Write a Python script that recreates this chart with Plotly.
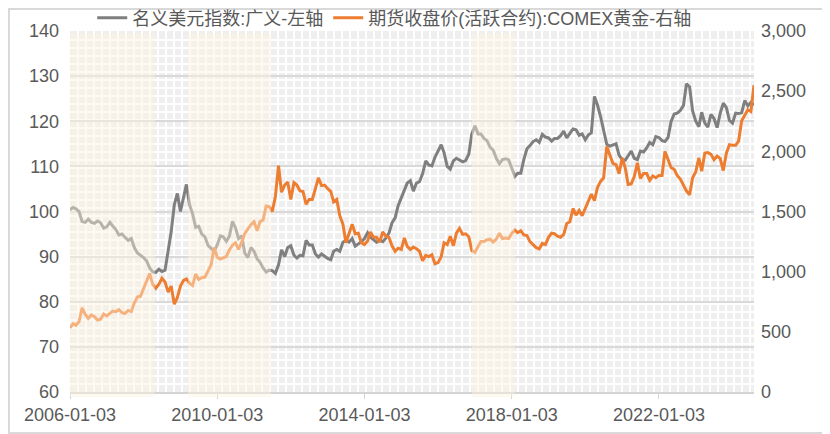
import plotly.graph_objects as go
from plotly.subplots import make_subplots
import pandas as pd

# month-start readings (3rd of each month), 2006-01 .. 2024-08
usd_broad = [
    100.4, 100.9, 100.6, 100.0, 97.8, 97.6, 98.3, 97.6, 97.4, 97.9, 97.5, 96.3,
    96.6, 97.6, 96.8, 96.0, 94.8, 95.0, 94.3, 93.6, 94.0, 92.0, 90.8, 90.3,
    89.8, 89.0, 87.5, 86.6, 86.5, 87.2, 86.7, 87.0, 91.0, 95.5, 101.5, 104.0,
    100.0, 103.0, 106.0, 101.5, 99.5, 96.5, 96.7, 95.0, 94.4, 92.5, 91.8, 91.2,
    92.6, 94.6, 94.4, 93.4, 94.5, 97.8, 96.4, 94.0, 94.6, 90.8, 89.8, 92.0,
    91.2, 89.5, 88.8, 87.5, 86.6, 87.0, 86.9, 86.3, 88.2, 91.5, 90.0, 92.0,
    92.4, 90.3, 89.7, 90.3, 90.2, 93.6, 92.6, 92.6, 90.6, 89.9, 90.6, 90.1,
    89.6, 89.3, 91.2, 91.6, 91.2, 93.2, 93.6, 93.2, 94.0, 92.3, 92.8, 93.3,
    94.0, 95.3, 94.3, 93.8, 93.2, 93.6, 93.3, 94.1, 95.2, 97.5, 98.6, 101.3,
    103.0, 104.8, 106.3, 106.8, 104.5, 106.3, 106.6, 108.4, 111.2, 110.3, 110.1, 112.0,
    113.4, 114.8, 113.0, 110.0, 109.4, 111.2, 111.8, 111.4, 111.0, 111.3, 112.7, 117.2,
    119.0, 117.2, 117.2, 116.2, 115.7, 114.2, 113.6, 111.8, 110.6, 111.5, 111.7, 111.5,
    109.6, 107.8, 108.5, 108.5, 111.5, 113.9, 114.6, 115.5, 115.9, 115.3, 117.1, 116.5,
    116.3, 115.6, 116.2, 116.2, 116.8, 117.8, 116.3, 117.2, 118.3, 118.1, 116.9, 117.2,
    115.9, 117.0, 117.4, 125.5, 123.6, 121.0, 118.0, 114.9, 114.5, 114.8, 115.0, 112.5,
    111.5, 111.4, 112.5, 113.4, 111.8, 111.5, 113.4, 113.2, 114.1, 115.3, 114.8, 116.6,
    116.4, 115.7, 115.5, 116.4, 119.9, 121.6, 121.8, 122.4, 123.5, 128.3, 127.6, 122.3,
    120.0, 118.8, 122.0, 119.6, 118.7, 121.5, 120.6, 118.6, 121.8, 124.0, 123.0, 120.2,
    119.6, 121.8, 121.7, 121.9, 124.6, 123.4, 124.2, 123.6,
]

gold = [
    532, 568, 555, 586, 700, 645, 612, 640, 625, 598, 605, 648,
    632, 652, 672, 668, 684, 660, 652, 678, 668, 740, 790, 795,
    860, 912, 985, 895, 862, 895, 945, 915, 830, 880, 730, 785,
    880, 928, 940, 905, 885, 980, 935, 950, 955, 1005, 1058, 1200,
    1120, 1105, 1118, 1126, 1180, 1220, 1240, 1185, 1245, 1315, 1355, 1390,
    1415, 1340, 1415, 1430, 1545, 1540, 1500, 1625, 1880, 1660, 1720, 1745,
    1600, 1740, 1720, 1670, 1665, 1560, 1600, 1600, 1690, 1780, 1715, 1720,
    1690, 1665, 1580, 1600, 1465, 1395, 1240, 1320, 1395, 1315, 1320, 1240,
    1225, 1255, 1330, 1285, 1285, 1245, 1330, 1295, 1285, 1215, 1170, 1195,
    1185, 1280, 1210, 1185, 1205, 1190, 1170, 1090, 1135, 1125, 1140, 1065,
    1075, 1125, 1240, 1225, 1295, 1215, 1320, 1360, 1310, 1315, 1290, 1175,
    1160, 1210, 1250, 1250, 1265, 1270, 1245, 1270, 1320, 1275, 1280, 1275,
    1318, 1345, 1325, 1340, 1305, 1300, 1250, 1225, 1200, 1190, 1235, 1225,
    1285, 1320, 1315, 1295, 1285, 1310, 1400, 1415, 1525, 1470, 1510, 1465,
    1525, 1585, 1645, 1590, 1700, 1750, 1780, 2040, 1975, 1900, 1890, 1815,
    1945, 1860, 1725, 1730, 1790, 1905, 1775, 1815, 1815, 1760, 1795, 1780,
    1800, 1800, 2000, 1935, 1865, 1850, 1800, 1770, 1715, 1670, 1640, 1780,
    1830, 1945, 1835, 1985, 1990, 1975, 1930, 1960, 1940, 1840, 1985, 2055,
    2050, 2050, 2085, 2255, 2300, 2345, 2330, 2550,
]

dates = pd.date_range('2006-01-01', periods=len(gold), freq='MS') + pd.Timedelta(days=2)

tick_dates = ['2006-01-03', '2010-01-03', '2014-01-03', '2018-01-03', '2022-01-03']

# periods of dollar weakness, shaded
shade_periods = [('2006-01-03', '2008-04-22'),
                 ('2009-03-20', '2011-06-20'),
                 ('2016-12-05', '2018-02-01')]

font_family = 'Liberation Sans, Arial, Noto Sans CJK SC, sans-serif'
text_color = '#595959'

# the page sits 8px in from the window corner, so the figure is 8px smaller
fig_w, fig_h = 822, 426
ml, mr, mt, mb = 62, 76, 23, 42
plot_w = fig_w - ml - mr
plot_h = fig_h - mt - mb

fig = make_subplots(specs=[[{"secondary_y": True}]])

fig.add_trace(go.Scatter(x=dates, y=usd_broad, mode='lines',
                         line=dict(color='#7f7f7f', width=3),
                         name='名义美元指数:广义-左轴'))
fig.add_trace(go.Scatter(x=dates, y=gold, mode='lines',
                         line=dict(color='#ed7d31', width=3),
                         name='期货收盘价(活跃合约):COMEX黄金-右轴'),
              secondary_y=True)

for x0, x1 in shade_periods:
    fig.add_shape(type='rect', xref='x', yref='paper', x0=x0, x1=x1,
                  y0=-0.014, y1=0.994, layer='above', line_width=0,
                  fillcolor='rgba(255,244,225,0.45)')

# light frame round the whole picture
fig.add_shape(type='rect', xref='paper', yref='paper',
              x0=(1 - ml) / plot_w, x1=(fig_w - 1 - ml) / plot_w,
              y0=-(mb - 1) / plot_h, y1=(plot_h + mt - 1) / plot_h,
              line=dict(color='#d9d9d9', width=2), layer='below')

ms_per_year = 365.25 * 24 * 3600 * 1000
px_per_year = plot_w / 18.58
cell = 8

fig.update_xaxes(type='date', range=['2006-01-03', '2024-08-03'], domain=[0, 1],
                 automargin=False,
                 tickmode='array', tickvals=tick_dates, ticktext=tick_dates,
                 tickfont=dict(size=18, color=text_color),
                 showgrid=False, zeroline=False,
                 showline=True, linecolor='#d4d4d4', linewidth=2,
                 ticks='outside', ticklen=5, tickcolor='#d4d4d4', tickwidth=1,
                 minor=dict(tickmode='linear', tick0='2006-01-03',
                            dtick=cell / px_per_year * ms_per_year,
                            showgrid=True, gridcolor='white', gridwidth=2,
                            ticks=''))

fig.update_yaxes(range=[60, 140], dtick=10, secondary_y=False, automargin=False,
                 tickfont=dict(size=18, color=text_color),
                 showgrid=True, gridcolor='#d9d9d9', gridwidth=2,
                 zeroline=False, ticks='', ticklabelstandoff=10,
                 minor=dict(tickmode='linear', tick0=60, dtick=80 / plot_h * cell,
                            showgrid=True, gridcolor='white', gridwidth=2,
                            ticks=''))
fig.update_yaxes(range=[0, 3000], dtick=500, tickformat=',', secondary_y=True,
                 automargin=False,
                 tickfont=dict(size=18, color=text_color),
                 showgrid=False, zeroline=False, ticks='', ticklabelstandoff=6)

fig.update_layout(
    width=fig_w, height=fig_h,
    margin=dict(l=ml, r=mr, t=mt, b=mb, autoexpand=False),
    paper_bgcolor='white', plot_bgcolor='#efefef',
    font=dict(family=font_family, color=text_color, size=18),
    showlegend=True,
    legend=dict(orientation='h', x=0.474, xanchor='center', y=1.036, yanchor='middle',
                font=dict(size=18, color=text_color), bgcolor='rgba(0,0,0,0)'),
)

fig.write_html("out.html")
